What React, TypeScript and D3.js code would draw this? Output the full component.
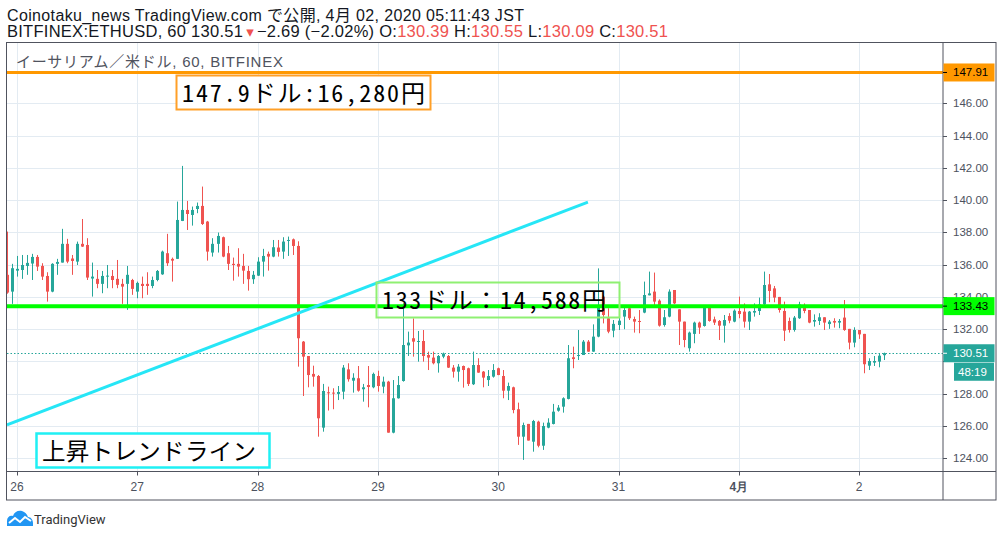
import React from "react";
import * as d3 from "d3";

// ---------- DATA ----------
// hourly candles, first candle = 2020-03-25 22:00 JST
const firstHour = -2; // hours relative to 26 00:00
const opens = [135.37,134.33,135.63,135.67,135.92,136.07,136.48,135.92,135.3,134.33,136.05,136.13,137.29,136.38,136.19,137.29,137.22,135.14,135.12,134.81,135.26,135.3,135.12,134.81,134.81,135.05,
134.33,134.81,134.81,134.68,135.05,135.4,136.71,136.36,136.36,138.71,139.39,139.08,139.45,139.64,138.67,136.75,137.29,137.7,136.71,136.05,136.05,135.92,135.61,135.1,
135.32,136.19,136.67,136.5,137.06,136.81,137.47,137.57,137.16,131.23,130.34,129.23,129.1,125.9,128.09,128.07,127.99,128.13,129.51,128.81,128.96,128.28,128.54,128.4,
129.1,128.44,128.75,125.59,127.72,128.79,131.0,131.44,131.23,131.27,130.4,130.24,129.89,130.3,130.34,129.62,129.37,129.72,129.58,128.59,129.78,129.37,128.85,129.06,
129.58,129.1,128.19,128.4,127.04,125.34,126.13,125.03,126.27,124.78,125.9,126.13,126.95,127.2,127.68,130.26,130.34,130.4,131.23,130.61,131.54,134.02,132.68,131.91,
132.26,132.78,133.3,132.63,132.51,133.03,134.1,134.33,133.77,132.26,132.78,134.43,133.23,132.47,130.82,131.71,132.41,132.2,133.34,132.61,132.51,132.22,132.82,132.47,
133.13,133.09,132.47,133.03,133.13,133.54,134.78,134.53,134.0,133.13,132.51,131.95,132.68,133.4,133.19,132.47,132.51,132.74,132.32,132.51,132.41,132.72,132.02,131.17,
131.95,131.71,129.74,129.93,129.99,130.39];
const highs = [138.05,136.05,136.54,136.6,136.6,136.67,136.6,136.09,135.53,136.09,136.36,138.22,137.6,136.6,137.43,138.83,137.64,136.13,135.67,135.61,135.98,135.67,136.29,135.12,135.92,135.12,
134.95,135.26,135.53,135.26,135.67,136.87,137.91,136.44,139.91,142.12,139.95,139.6,139.85,140.84,138.71,137.64,137.99,137.74,137.16,136.44,137.02,136.67,135.92,135.61,
136.46,136.98,136.81,137.53,137.53,137.7,137.74,137.62,137.45,131.27,130.34,129.74,129.16,128.61,128.44,128.34,128.48,129.78,129.89,129.27,129.72,128.61,129.72,129.31,
129.43,129.06,128.8,128.85,129.1,133.6,131.85,132.67,131.89,131.95,130.61,130.61,130.4,130.55,130.4,129.78,129.84,129.75,129.62,130.61,130.2,129.41,129.47,129.84,
129.62,129.47,128.69,128.44,127.45,126.21,126.13,126.38,126.33,126.21,126.48,127.37,127.3,127.78,131.02,130.92,131.95,131.33,131.33,132.3,135.77,134.1,133.3,132.57,
133.23,133.4,133.4,132.78,133.19,134.95,135.57,135.51,133.85,133.19,134.47,134.43,133.23,132.47,131.85,132.47,132.47,133.5,133.4,132.78,132.57,132.88,132.99,133.23,
134.02,133.6,133.13,133.6,133.96,135.57,135.42,134.68,134.0,133.71,132.72,132.82,133.7,133.6,133.19,132.92,132.99,132.74,132.57,132.68,132.63,133.81,132.02,132.12,
131.95,131.71,130.2,130.34,130.51,130.55];
const lows = [134.2,133.57,135.26,135.12,135.37,135.05,135.61,135.05,133.71,134.29,135.37,136.13,136.09,135.37,135.98,137.1,135.05,134.02,134.54,134.23,134.54,134.54,134.54,133.57,133.2,134.13,
133.92,133.92,134.13,134.54,134.97,135.37,135.92,134.95,136.35,138.7,138.15,138.42,139.19,138.46,136.25,136.5,136.75,136.46,135.67,135.01,135.26,134.81,134.39,134.81,
135.3,135.26,135.63,136.46,136.5,136.36,136.54,136.6,129.68,127.86,128.4,128.44,125.34,125.65,126.96,127.04,127.61,127.66,128.75,128.07,128.13,127.51,127.16,128.34,
128.13,128.03,125.59,125.55,127.7,128.75,130.34,130.3,129.99,129.99,129.47,129.82,129.31,130.2,129.6,129.0,128.75,128.38,128.48,128.54,129.3,128.4,128.48,129.0,
129.15,127.72,127.61,126.79,124.83,123.9,125.1,124.41,124.68,124.52,125.86,126.1,126.89,126.83,127.65,129.58,130.09,130.4,130.6,130.6,131.5,132.36,131.75,131.5,
131.95,132.0,132.57,131.79,131.75,132.99,134.1,133.4,132.16,132.16,132.74,133.56,131.02,130.88,130.61,131.13,131.71,132.16,132.47,132.26,131.33,131.17,132.37,132.43,
132.68,132.1,131.95,132.78,132.88,133.5,133.67,133.67,133.03,131.27,131.79,131.85,132.64,132.99,132.37,132.16,132.26,131.95,132.02,132.1,132.06,131.9,130.75,130.88,
131.4,129.27,129.47,129.72,129.64,130.09];
const closes = [134.27,135.78,135.74,135.98,136.11,136.48,135.88,135.26,134.33,136.05,136.17,137.29,136.19,136.23,137.29,137.12,135.2,135.26,134.81,135.3,135.32,135.05,134.75,134.64,135.37,134.5,
134.87,134.68,134.68,135.05,135.61,136.81,136.09,136.25,138.77,139.39,139.14,139.39,139.64,138.52,136.81,137.29,137.78,136.5,136.05,135.98,135.88,135.63,135.1,135.37,
136.19,136.54,136.5,137.08,136.79,137.43,137.53,137.16,131.44,130.3,129.16,129.06,126.48,128.17,128.03,128.01,128.11,129.62,128.9,128.99,128.19,128.4,128.42,129.23,
128.48,128.75,125.59,127.72,128.54,131.02,131.17,131.23,131.27,130.34,130.24,129.89,130.34,130.47,129.62,129.37,129.68,129.47,128.61,129.78,129.31,129.0,129.1,129.47,
129.16,128.19,128.48,126.99,125.34,126.06,125.1,126.31,124.78,126.0,126.21,126.89,127.14,127.72,130.2,130.15,130.4,131.23,130.61,131.54,133.4,132.88,131.85,132.33,
132.53,133.19,132.68,132.47,132.45,134.12,134.22,133.71,132.22,132.74,134.33,133.6,132.47,131.33,131.79,132.41,132.1,133.4,132.51,132.41,132.22,132.57,132.53,133.15,
132.94,132.47,133.09,133.13,133.54,134.74,134.37,133.96,133.19,131.91,131.95,132.72,133.54,133.13,132.41,132.57,132.74,132.41,132.47,132.41,132.51,131.95,131.17,131.95,
131.68,129.83,130.03,130.03,130.36,130.51];

const dayLabels = ["26", "27", "28", "29", "30", "31", "4月", "2"];
const dayBold = [false, false, false, false, false, false, true, false];
const priceTicks = [124, 126, 128, 130, 132, 134, 136, 138, 140, 142, 144, 146];

const resistanceLevel = 147.91;
const supportLevel = 133.43;
const lastPrice = 130.51;
const countdown = "48:19";
// trend line: [hour, price]
const trendStart = [-2, 126.07];
const trendEnd = [113.9, 139.88];

const headerLine1 = "Coinotaku_news TradingView.com で公開, 4月 02, 2020 05:11:43 JST";
const chartTitle = "イーサリアム／米ドル, 60, BITFINEX";
const note1 = "147.9ドル:16,280円";
const note2 = "133ドル：14,588円";
const note3 = "上昇トレンドライン";

// ---------- LAYOUT ----------
const W = 1002, H = 537;
const L = 7, T = 42.5, R = 943, B = 471.5, OUTR = 996, OUTB = 500;
const UP = "#26a69a", DN = "#ef5350";

const x = d3.scaleLinear().domain([0, 168]).range([17, 17 + 5.0125 * 168]);
const y = d3.scaleLinear().domain([124, 146]).range([458.3, 103.3]);

const candles = opens.map((o, i) => ({
  h: firstHour + i, o, hi: highs[i], lo: lows[i], c: closes[i],
}));

const HDR = "'Liberation Sans', Arial, 'Noto Sans CJK JP', sans-serif";
const JP = "'Noto Sans CJK JP', sans-serif";
const MONO = "'Noto Sans Mono CJK JP', 'Noto Sans CJK JP', sans-serif";
const AX = "'Liberation Sans', Arial, sans-serif";

export default function App() {
  const dayHours = dayLabels.map((_, i) => i * 24);
  const boxes = [
    { v: resistanceLevel, bg: "#ff9800", fg: "#000" },
    { v: supportLevel, bg: "#00ff00", fg: "#000" },
    { v: lastPrice, bg: UP, fg: "#fff" },
  ];
  const hiddenTick = (p: number) => boxes.some((b) => Math.abs(y(p) - y(b.v)) < 8.7);
  return (
    <svg width={W} height={H} style={{ position: "absolute", left: 0, top: 0, background: "#fff" }}
      xmlns="http://www.w3.org/2000/svg">
      <defs>
        <clipPath id="plot"><rect x={L} y={T} width={R - L} height={B - T} /></clipPath>
      </defs>
      <rect x={0} y={0} width={W} height={H} fill="#fff" />

      {/* header */}
      <text x={7} y={20.5} fontFamily={HDR} fontSize={16} fill="#131722" textLength={517} lengthAdjust="spacing">{headerLine1}</text>
      <text x={7} y={37} fontFamily={HDR} fontSize={16.5} fill="#131722" textLength={661} lengthAdjust="spacing">
        <tspan>BITFINEX:ETHUSD, 60 130.51</tspan>
        <tspan fill={DN} fontSize={15} dx={3} fontFamily="'DejaVu Sans', sans-serif">▾</tspan>
        <tspan dx={3}>−2.69 (−2.02%) O:</tspan>
        <tspan fill={DN}>130.39</tspan>
        <tspan> H:</tspan>
        <tspan fill={DN}>130.55</tspan>
        <tspan> L:</tspan>
        <tspan fill={DN}>130.09</tspan>
        <tspan> C:</tspan>
        <tspan fill={DN}>130.51</tspan>
      </text>

      {/* grid */}
      <g stroke="#e3ebf2" strokeWidth={1}>
        {priceTicks.map((p) => (
          <line key={p} x1={L} x2={R} y1={Math.round(y(p)) + 0.5} y2={Math.round(y(p)) + 0.5} />
        ))}
        {dayHours.map((h) => (
          <line key={h} x1={Math.round(x(h)) + 0.5} x2={Math.round(x(h)) + 0.5} y1={T} y2={B} />
        ))}
      </g>

      <text x={16} y={66.5} fontFamily={HDR} fontSize={15} fill="#50535e" textLength={267} lengthAdjust="spacing">{chartTitle}</text>

      {/* candles */}
      <g clipPath="url(#plot)">
        {candles.map((d) => {
          const xc = Math.round(x(d.h));
          const col = d.c >= d.o ? UP : DN;
          const top = y(Math.max(d.o, d.c));
          const bot = y(Math.min(d.o, d.c));
          return (
            <g key={d.h}>
              <line x1={xc + 0.5} x2={xc + 0.5} y1={y(d.hi)} y2={y(d.lo)} stroke={col} strokeWidth={1} />
              <rect x={xc - 1} y={top} width={3} height={Math.max(1, bot - top)} fill={col} />
            </g>
          );
        })}
        {/* last price dotted line */}
        <line x1={L} x2={R} y1={Math.round(y(lastPrice)) + 0.5} y2={Math.round(y(lastPrice)) + 0.5}
          stroke={UP} strokeWidth={1} strokeDasharray="1.5,2" />
        {/* horizontal levels */}
        <line x1={L} x2={R} y1={y(resistanceLevel)} y2={y(resistanceLevel)} stroke="#ff9800" strokeWidth={3} />
        <line x1={L} x2={R} y1={y(supportLevel)} y2={y(supportLevel)} stroke="#00ff00" strokeWidth={4} />
        {/* trend line */}
        <line x1={x(trendStart[0])} y1={y(trendStart[1])} x2={x(trendEnd[0])} y2={y(trendEnd[1])}
          stroke="#26e6f6" strokeWidth={3} />
      </g>

      {/* annotations */}
      <rect x={176.5} y={75.5} width={254} height={34} fill="#fff" stroke="#ffa028" strokeWidth={2} />
      <text x={182} y={102} fontFamily={MONO} fontSize={24} fill="#000" textLength={243} lengthAdjust="spacing">{note1}</text>

      <rect x={376.5} y={282.5} width={243} height={35} fill="none" stroke="#8ff072" strokeWidth={2} />
      <text x={382} y={309} fontFamily={MONO} fontSize={24} fill="#000" textLength={224} lengthAdjust="spacing">{note2}</text>

      <rect x={36.5} y={433.5} width={233} height={34} fill="#fff" stroke="#1ff0f4" strokeWidth={2.5} />
      <text x={42} y={460} fontFamily={JP} fontSize={23.5} fill="#000" textLength={214} lengthAdjust="spacing">{note3}</text>

      {/* frame */}
      <g stroke="#50535e" strokeWidth={1} fill="none">
        <rect x={L - 0.5} y={T} width={OUTR - L + 0.5} height={OUTB - T} />
        <line x1={R} x2={R} y1={T} y2={OUTB} />
        <line x1={L} x2={OUTR} y1={B} y2={B} />
      </g>

      {/* price axis */}
      <g fontFamily={AX} fontSize={11.5} fill="#4c525e">
        {priceTicks.map((p) => (
          <g key={p}>
            <line x1={R} x2={R + 4} y1={Math.round(y(p)) + 0.5} y2={Math.round(y(p)) + 0.5} stroke="#50535e" />
            {!hiddenTick(p) && <text x={953} y={y(p) + 4}>{p.toFixed(2)}</text>}
          </g>
        ))}
      </g>
      {boxes.map((b) => (
        <g key={b.v}>
          <rect x={R + 0.5} y={y(b.v) - 9} width={51} height={18} fill={b.bg} />
          <line x1={R} x2={R + 4} y1={y(b.v)} y2={y(b.v)} stroke={b.fg === "#fff" ? "#fff" : "#000"} />
          <text x={953} y={y(b.v) + 4} fontFamily={AX} fontSize={11.5} fill={b.fg}>{b.v.toFixed(2)}</text>
        </g>
      ))}
      <rect x={954} y={y(lastPrice) + 9.5} width={40} height={18} fill={UP} />
      <text x={958} y={y(lastPrice) + 22.5} fontFamily={AX} fontSize={11.5} fill="#fff">{countdown}</text>

      {/* time axis */}
      <g fontFamily={AX} fontSize={12} fill="#4c525e" textAnchor="middle">
        {dayHours.map((h, i) => (
          <g key={h}>
            <line x1={Math.round(x(h)) + 0.5} x2={Math.round(x(h)) + 0.5} y1={B} y2={B + 4} stroke="#50535e" />
            <text x={x(h)} y={491} fontWeight={dayBold[i] ? "bold" : "normal"}>{dayLabels[i]}</text>
          </g>
        ))}
      </g>

      {/* logo */}
      <g transform="translate(7,509)">
        <path d="M0,17 L0,12 C0,8 3,6 6,7 C7,3 11,1 15,2 C18,3 20,5 21,8 C24,8 26,11 26,14 L26,17 Z" fill="#2196f3" />
        <polyline points="2,14 8,9 13,13 18,8 24,12" fill="none" stroke="#fff" strokeWidth={2} />
      </g>
      <text x={34} y={524} fontFamily="Roboto, sans-serif" fontSize={13} fill="#333">TradingView</text>
    </svg>
  );
}
